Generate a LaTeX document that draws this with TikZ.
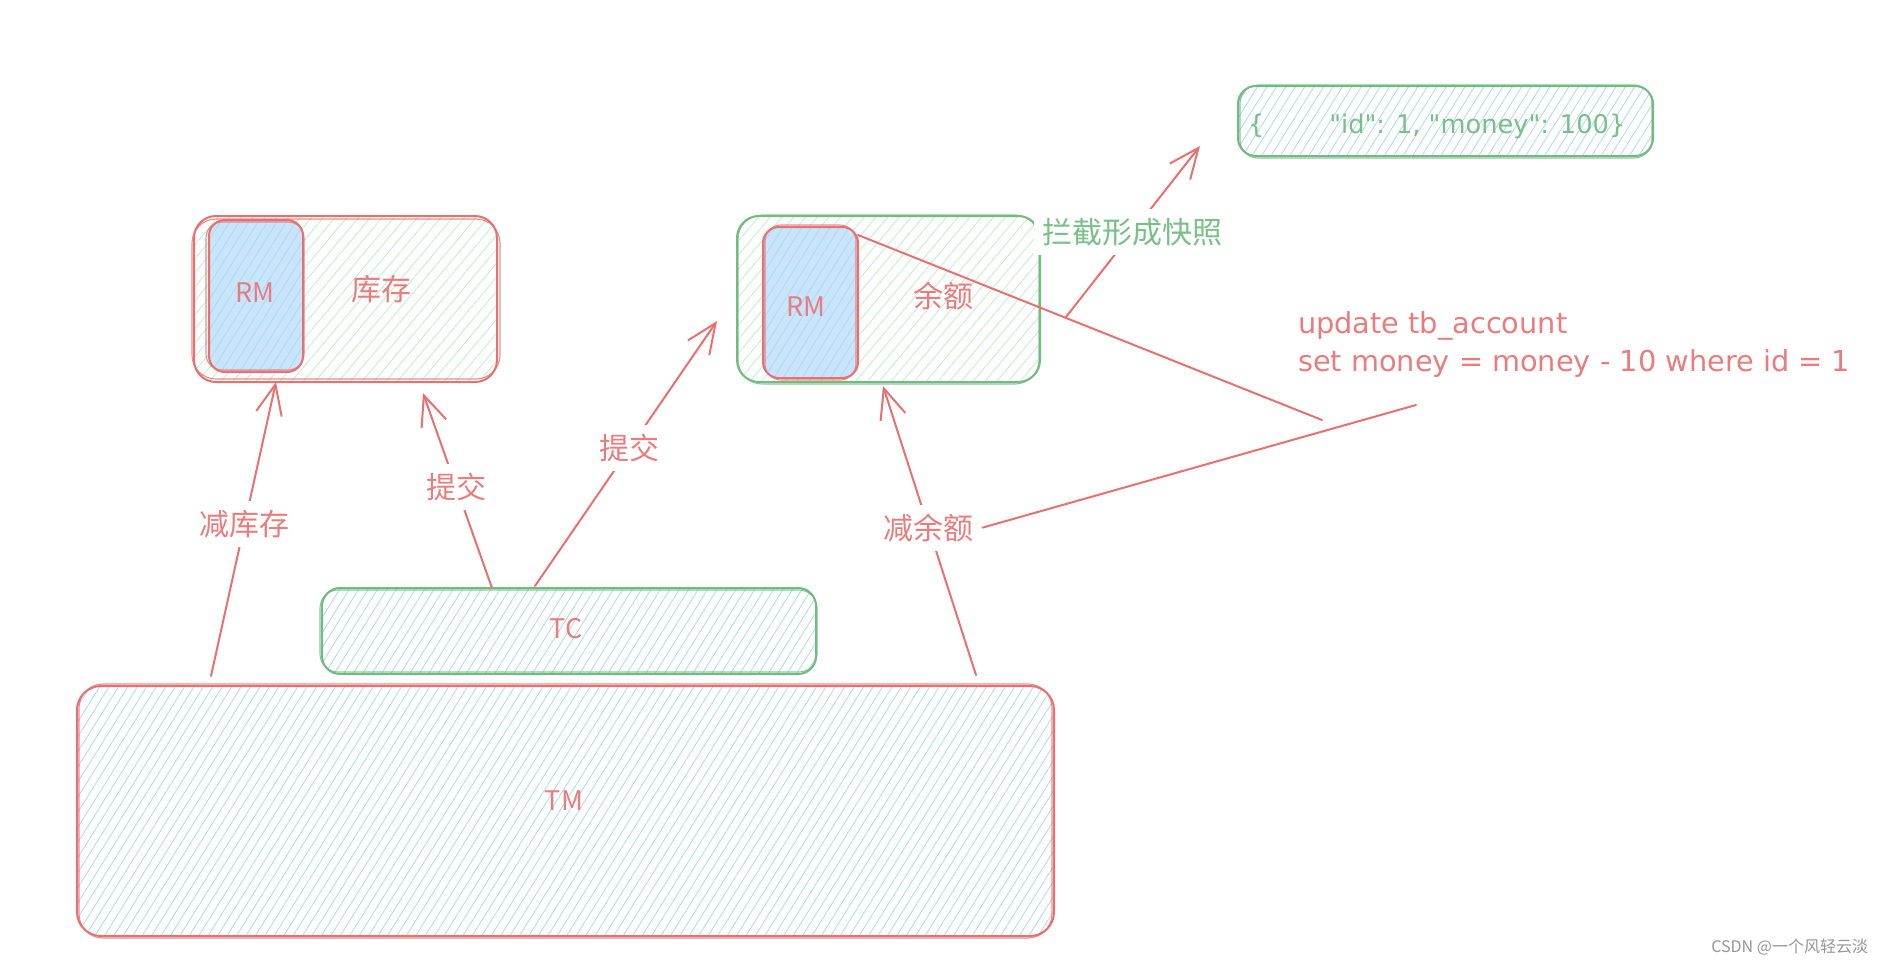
\documentclass[tikz,border=0pt]{standalone}
\usepackage{fontspec}
\setmainfont{Noto Sans CJK SC}
\newfontfamily\latinhand{DejaVu Sans}
\usetikzlibrary{arrows.meta,patterns.meta,calc}
\definecolor{skred}{RGB}{232,112,112}
\definecolor{skredtext}{RGB}{233,125,125}
\definecolor{skgreen}{RGB}{112,188,128}
\definecolor{skgreentext}{RGB}{120,192,135}
\definecolor{hblue}{RGB}{172,216,250}
\definecolor{hgreen}{RGB}{192,238,200}
\definecolor{rmfill}{RGB}{201,229,252}
\definecolor{wmgray}{RGB}{150,150,150}
\begin{document}
\begin{tikzpicture}[x=1pt,y=-1pt,
  every node/.style={inner sep=0pt, outer sep=0pt},
  redbox/.style={draw=skred, line width=2pt, rounded corners=22pt},
  greenbox/.style={draw=skgreen, line width=2pt, rounded corners=22pt},
  redsk/.style={draw=skred, line width=1.1pt, opacity=.8},
  greensk/.style={draw=skgreen, line width=1.1pt, opacity=.8},
  hatchB/.style={pattern={Lines[angle=58,distance=8pt,line width=0.8pt]}, pattern color=hblue},
  hatchG/.style={pattern={Lines[angle=50,distance=9pt,line width=0.8pt]}, pattern color=hgreen},
  conn/.style={draw=skred, line width=2pt, line cap=round},
  arr/.style={conn, -{Straight Barb[length=30pt,width=26pt]}},
  lab/.style={font=\fontsize{30}{36}\selectfont, text=skredtext, fill=white, inner sep=9pt},
  boxtext/.style={font=\fontsize{30}{36}\selectfont, text=skredtext},
  rmtext/.style={font=\fontsize{27}{32}\selectfont, text=skredtext},
  codetext/.style={font=\latinhand\fontsize{28.8}{38}\selectfont, text=skredtext, align=left},
  jsontext/.style={font=\latinhand\fontsize{25.7}{30}\selectfont, text=skgreentext},
  greenlab/.style={font=\fontsize{30}{36}\selectfont, text=skgreentext, fill=white, inner sep=9pt}
]
\fill[white] (0,0) rectangle (1881,967);
\useasboundingbox (0,0) rectangle (1881,967);

% ---- boxes ----
\node[redbox, hatchG, minimum width=303pt, minimum height=166pt] (kc) at (345.5,299) {};
\draw[redsk, rounded corners=24pt] ($(kc.north west)+(-2,3)$) rectangle ($(kc.south east)+(3,-3)$);
\node[redbox, rounded corners=16pt, preaction={fill=rmfill}, hatchB, minimum width=94pt, minimum height=152pt] (rm1) at (256,296) {};
\draw[redsk, rounded corners=16pt] ($(rm1.north west)+(-3,2)$) rectangle ($(rm1.south east)+(1,-2)$);
\node[rmtext] (rm1t) at (255,293) {RM};
\node[boxtext] (kct) at (381,289) {库存};

\node[greenbox, hatchG, minimum width=303pt, minimum height=166pt] (yue) at (888.5,299) {};
\draw[greensk, rounded corners=24pt] ($(yue.north west)+(1,-1)$) rectangle ($(yue.south east)+(-1,2)$);
\node[redbox, rounded corners=16pt, preaction={fill=rmfill}, hatchB, minimum width=95pt, minimum height=151pt] (rm2) at (810.5,302.5) {};
\draw[redsk, rounded corners=16pt] ($(rm2.north west)+(2,-2)$) rectangle ($(rm2.south east)+(-2,2)$);
\node[rmtext] (rm2t) at (806,307) {RM};
\node[boxtext] (yuet) at (943,296) {余额};

\node[greenbox, rounded corners=18pt, hatchB, minimum width=415pt, minimum height=70pt] (json) at (1445.5,121) {};
\draw[greensk, rounded corners=18pt] ($(json.north west)+(2,-1)$) rectangle ($(json.south east)+(-1,2)$);
\node[jsontext, anchor=west] (jsont) at (1248,126) {\{\hspace{65pt}\symbol{"22}id\symbol{"22}: 1, \symbol{"22}money\symbol{"22}: 100\}};

\node[greenbox, rounded corners=18pt, hatchB, minimum width=494pt, minimum height=86pt] (tc) at (569,631) {};
\draw[greensk, rounded corners=18pt] ($(tc.north west)+(-2,2)$) rectangle ($(tc.south east)+(1,-2)$);
\node[rmtext] (tct) at (566,629) {TC};

\node[redbox, rounded corners=24pt, hatchB, minimum width=977pt, minimum height=250pt] (tm) at (565.5,811) {};
\draw[redsk, rounded corners=24pt] ($(tm.north west)+(2,-2)$) rectangle ($(tm.south east)+(-2,2)$);
\node[rmtext] (tmt) at (564,801) {TM};

% ---- code text ----
\node[codetext, anchor=west] (code) at (1298,345) {update tb\_account\\set money = money - 10 where id = 1};

% ---- coordinates ----
\coordinate (a1s) at ($(tm.north west)+(134,-10)$);
\coordinate (a1e) at ($(kc.south west)+(82,0)$);
\coordinate (a2s) at ($(tc.north west)+(170,0)$);
\coordinate (a2e) at ($(kc.south west)+(229,11)$);
\coordinate (a3s) at ($(tc.north west)+(213,-2)$);
\coordinate (a3e) at ($(yue.west)+(-20,22)$);
\coordinate (a4s) at ($(tm.north west)+(899,-11)$);
\coordinate (a4e) at ($(yue.south west)+(146,4)$);
\coordinate (rmc) at ($(rm2.north east)+(0,8)$);
\coordinate (u1) at (1322,420);
\coordinate (u2) at (1416,405);
\coordinate (snap) at ($(rmc)!0.447!(u1)$);
\coordinate (a7e) at ($(json.south west)+(-38,-10)$);

% ---- connectors ----
\draw[arr] (a1s) -- node[lab, pos=.517] (l1) {减库存} (a1e);
\draw[arr] (a2s) -- node[lab, pos=.52] (l2) {提交} (a2e);
\draw[arr] (a3s) -- node[lab, pos=.52] (l3) {提交} (a3e);
\draw[arr] (a4s) -- node[lab, pos=.51] (l4) {减余额} (a4e);
\draw[conn] (rmc) -- (u1);
\draw[conn] (l4.east) -- (u2);
\draw[arr] (snap) -- node[greenlab, pos=.5] (l7) {拦截形成快照} (a7e);

% ---- watermark ----
\node[font=\fontsize{16}{18}\selectfont, text=wmgray, anchor=east] (wm) at (1868,947) {CSDN @一个风轻云淡};
\end{tikzpicture}
\end{document}
